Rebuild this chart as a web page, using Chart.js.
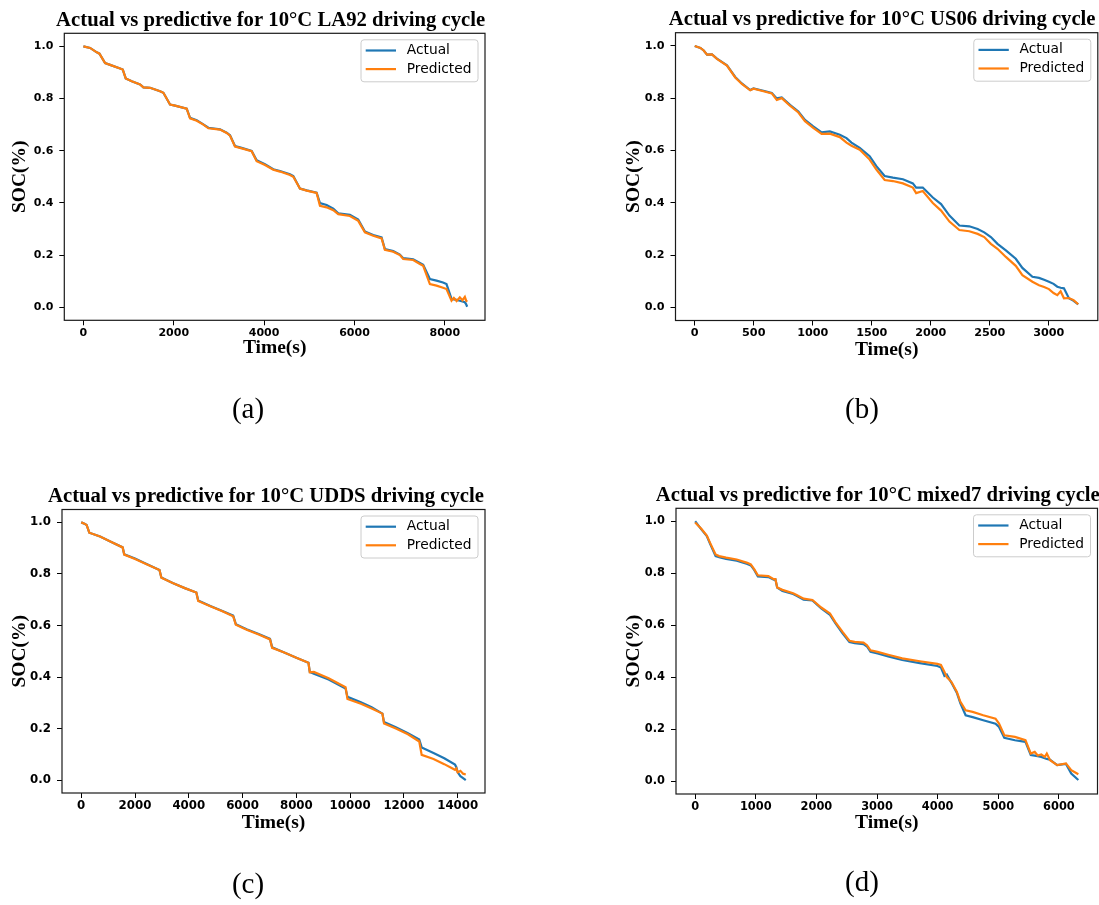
<!DOCTYPE html>
<html lang="en">
<head>
<meta charset="UTF-8">
<title>Actual vs predictive SOC</title>
<script src="https://cdn.jsdelivr.net/npm/chart.js"></script>
<style>
  html, body { margin: 0; padding: 0; background: #fff; }
  #wrap { position: relative; width: 1099px; height: 905px; overflow: hidden; }
  #wrap canvas { position: absolute; left: 0; top: 0; }
</style>
</head>
<body>
<div id="wrap">
  <canvas id="chartA" width="1099" height="905"></canvas>
  <canvas id="chartB" width="1099" height="905"></canvas>
  <canvas id="chartC" width="1099" height="905"></canvas>
  <canvas id="chartD" width="1099" height="905"></canvas>
</div>
<script>
// ---- data ----
const yTicks = [0, 0.2, 0.4, 0.6, 0.8, 1.0];

// (a) LA92
const xTicksA = [0, 2000, 4000, 6000, 8000];
const timeA = [0, 148, 296, 355, 480, 591, 812, 871, 937, 1070, 1254, 1328, 1475, 1697, 1770, 1918, 2028, 2286, 2360, 2508, 2655, 2766, 3024, 3171, 3245, 3355, 3503, 3724, 3835, 4019, 4203, 4351, 4572, 4646, 4793, 4941, 5162, 5236, 5383, 5531, 5641, 5899, 6083, 6231, 6415, 6600, 6673, 6858, 7005, 7079, 7300, 7448, 7521, 7669, 7816, 7960, 8037, 8148, 8200, 8260, 8332, 8390, 8443, 8470, 8494];
const actualA = [1.000, 0.994, 0.977, 0.972, 0.936, 0.929, 0.915, 0.911, 0.877, 0.866, 0.854, 0.843, 0.841, 0.828, 0.822, 0.777, 0.773, 0.761, 0.726, 0.717, 0.701, 0.688, 0.682, 0.669, 0.659, 0.618, 0.611, 0.599, 0.563, 0.548, 0.529, 0.522, 0.510, 0.503, 0.455, 0.448, 0.439, 0.399, 0.392, 0.378, 0.360, 0.354, 0.336, 0.290, 0.277, 0.268, 0.223, 0.215, 0.202, 0.188, 0.184, 0.170, 0.163, 0.108, 0.102, 0.095, 0.089, 0.032, 0.030, 0.028, 0.025, 0.022, 0.019, 0.012, 0.002];
const predA = [1.000, 0.994, 0.977, 0.972, 0.936, 0.929, 0.915, 0.911, 0.877, 0.866, 0.854, 0.843, 0.841, 0.828, 0.822, 0.777, 0.773, 0.761, 0.724, 0.715, 0.700, 0.686, 0.681, 0.668, 0.658, 0.616, 0.609, 0.598, 0.560, 0.545, 0.527, 0.520, 0.507, 0.500, 0.455, 0.447, 0.438, 0.389, 0.383, 0.372, 0.357, 0.350, 0.331, 0.287, 0.274, 0.264, 0.220, 0.213, 0.200, 0.185, 0.181, 0.166, 0.159, 0.089, 0.083, 0.075, 0.070, 0.025, 0.036, 0.024, 0.038, 0.027, 0.040, 0.026, 0.021];

// (b) US06
const xTicksB = [0, 500, 1000, 1500, 2000, 2500, 3000];
const timeB = [0, 48, 76, 104, 146, 188, 273, 343, 399, 470, 498, 582, 653, 695, 737, 807, 878, 934, 1004, 1075, 1145, 1229, 1286, 1328, 1398, 1482, 1539, 1609, 1679, 1764, 1848, 1876, 1932, 2017, 2087, 2158, 2242, 2326, 2397, 2453, 2509, 2565, 2636, 2720, 2776, 2861, 2917, 2960, 3001, 3040, 3072, 3100, 3128, 3170, 3210, 3249];
const actualB = [0.999, 0.992, 0.982, 0.966, 0.967, 0.951, 0.925, 0.881, 0.856, 0.831, 0.837, 0.828, 0.820, 0.799, 0.803, 0.774, 0.749, 0.717, 0.692, 0.669, 0.673, 0.660, 0.647, 0.630, 0.610, 0.578, 0.540, 0.502, 0.496, 0.490, 0.474, 0.458, 0.458, 0.420, 0.395, 0.351, 0.313, 0.310, 0.300, 0.287, 0.269, 0.243, 0.218, 0.186, 0.151, 0.117, 0.113, 0.106, 0.098, 0.090, 0.079, 0.075, 0.073, 0.035, 0.025, 0.012];
const predB = [0.999, 0.992, 0.982, 0.966, 0.967, 0.950, 0.924, 0.879, 0.854, 0.830, 0.836, 0.826, 0.818, 0.793, 0.800, 0.771, 0.745, 0.712, 0.686, 0.663, 0.664, 0.651, 0.630, 0.618, 0.603, 0.565, 0.527, 0.487, 0.483, 0.474, 0.458, 0.437, 0.445, 0.399, 0.370, 0.328, 0.296, 0.291, 0.281, 0.269, 0.243, 0.224, 0.193, 0.159, 0.123, 0.098, 0.085, 0.078, 0.070, 0.055, 0.047, 0.062, 0.035, 0.036, 0.028, 0.012];

// (c) UDDS
const xTicksC = [0, 2000, 4000, 6000, 8000, 10000, 12000, 14000];
const timeC = [0, 120, 200, 300, 700, 1100, 1540, 1600, 2000, 2450, 2910, 2980, 3400, 3850, 4280, 4350, 4800, 5250, 5650, 5750, 6150, 6600, 7020, 7100, 7550, 8000, 8450, 8500, 8650, 9200, 9830, 9900, 10400, 10800, 11200, 11260, 11700, 12150, 12570, 12660, 13100, 13500, 13900, 13950, 14000, 14100, 14200, 14300];
const actualC = [1.000, 0.995, 0.990, 0.960, 0.945, 0.925, 0.903, 0.876, 0.860, 0.838, 0.815, 0.786, 0.765, 0.745, 0.728, 0.697, 0.676, 0.656, 0.638, 0.605, 0.585, 0.567, 0.548, 0.515, 0.495, 0.475, 0.455, 0.420, 0.413, 0.390, 0.355, 0.323, 0.302, 0.283, 0.258, 0.225, 0.205, 0.182, 0.158, 0.127, 0.105, 0.085, 0.060, 0.050, 0.030, 0.015, 0.008, 0.000];
const predC = [1.000, 0.995, 0.990, 0.960, 0.945, 0.925, 0.903, 0.875, 0.858, 0.837, 0.815, 0.785, 0.765, 0.745, 0.728, 0.695, 0.675, 0.655, 0.636, 0.603, 0.583, 0.565, 0.546, 0.513, 0.495, 0.475, 0.455, 0.418, 0.420, 0.395, 0.360, 0.315, 0.296, 0.278, 0.258, 0.220, 0.200, 0.178, 0.150, 0.098, 0.082, 0.062, 0.040, 0.045, 0.030, 0.036, 0.025, 0.022];

// (d) mixed7
const xTicksD = [0, 1000, 2000, 3000, 4000, 5000, 6000];
const timeD = [0, 105, 192, 250, 337, 395, 511, 685, 860, 918, 976, 1034, 1208, 1295, 1324, 1353, 1440, 1615, 1673, 1789, 1934, 2079, 2224, 2312, 2428, 2544, 2631, 2776, 2834, 2892, 3009, 3183, 3415, 3706, 3996, 4054, 4112, 4150, 4228, 4315, 4373, 4461, 4577, 4751, 4954, 5012, 5099, 5274, 5448, 5535, 5600, 5650, 5709, 5767, 5800, 5854, 5971, 6116, 6203, 6320];
const actualD = [1.000, 0.968, 0.943, 0.911, 0.866, 0.862, 0.855, 0.848, 0.836, 0.830, 0.812, 0.788, 0.785, 0.775, 0.776, 0.745, 0.732, 0.720, 0.713, 0.698, 0.695, 0.665, 0.640, 0.608, 0.570, 0.535, 0.531, 0.527, 0.518, 0.498, 0.491, 0.480, 0.466, 0.454, 0.443, 0.437, 0.405, 0.410, 0.378, 0.340, 0.300, 0.253, 0.246, 0.234, 0.221, 0.208, 0.166, 0.157, 0.151, 0.100, 0.098, 0.096, 0.093, 0.088, 0.085, 0.082, 0.061, 0.066, 0.029, 0.004];
const predD = [0.995, 0.970, 0.945, 0.915, 0.872, 0.866, 0.860, 0.853, 0.840, 0.834, 0.815, 0.792, 0.789, 0.777, 0.777, 0.745, 0.736, 0.723, 0.716, 0.702, 0.697, 0.668, 0.645, 0.612, 0.575, 0.540, 0.536, 0.533, 0.523, 0.503, 0.497, 0.486, 0.472, 0.461, 0.451, 0.447, 0.420, 0.400, 0.381, 0.344, 0.306, 0.272, 0.266, 0.253, 0.240, 0.221, 0.176, 0.170, 0.157, 0.106, 0.112, 0.098, 0.102, 0.093, 0.106, 0.080, 0.061, 0.068, 0.042, 0.026];

// ---- look ----
const W = 1099, H = 905;
const blue = '#1f77b4', orange = '#ff7f0e';
const axisFont = { family: '"Liberation Serif", serif', size: 19.5, weight: 'bold' };

// frame, title, legend in the plot box and the (a)/(b) tag
const decor = {
  id: 'decor',
  afterDatasetsDraw(chart, args, o) {
    const ctx = chart.ctx, a = chart.chartArea;
    ctx.save();
    ctx.strokeStyle = '#1a1a1a';
    ctx.lineWidth = 1.2;
    ctx.strokeRect(a.left, a.top, a.right - a.left, a.bottom - a.top);

    // legend box
    const lw = 117, lh = 42;
    const lx = a.right - 7 - lw, ly = a.top + 6.5;
    ctx.beginPath();
    ctx.roundRect(lx, ly, lw, lh, 3);
    ctx.fillStyle = 'rgba(255,255,255,0.85)';
    ctx.fill();
    ctx.strokeStyle = '#cccccc';
    ctx.lineWidth = 1;
    ctx.stroke();
    ctx.font = '13.8px "DejaVu Sans", sans-serif';
    ctx.textBaseline = 'middle';
    ctx.textAlign = 'left';
    chart.data.datasets.forEach((ds, i) => {
      const y = ly + 10.7 + i * 18.6;
      ctx.beginPath();
      ctx.moveTo(lx + 4.7, y);
      ctx.lineTo(lx + 35, y);
      ctx.strokeStyle = ds.borderColor;
      ctx.lineWidth = 2.2;
      ctx.stroke();
      ctx.fillStyle = '#000';
      ctx.fillText(ds.label, lx + 45.7, y);
    });

    // title above the box
    ctx.fillStyle = '#000';
    ctx.textAlign = 'center';
    ctx.font = 'bold 20.7px "Liberation Serif", serif';
    ctx.fillText(o.title, (a.left + a.right) / 2 + o.titleDx, a.top - 12.6);

    // sub-figure tag
    ctx.font = '29px "Liberation Serif", serif';
    ctx.fillText(o.tag, o.tagX, o.tagY);
    ctx.restore();
  }
};

function makePanel(p) {
  const pts = vals => p.time.map((t, i) => ({ x: t, y: vals[i] }));
  const tickFont = { family: '"DejaVu Sans", sans-serif', size: p.tickSize, weight: 'bold' };
  return new Chart(document.getElementById(p.id), {
    type: 'line',
    data: {
      datasets: [
        { label: 'Actual', data: pts(p.actual), borderColor: blue, backgroundColor: blue, order: 2 },
        { label: 'Predicted', data: pts(p.pred), borderColor: orange, backgroundColor: orange, order: 1 }
      ]
    },
    options: {
      responsive: false,
      animation: false,
      events: [],
      elements: { point: { radius: 0 }, line: { borderWidth: 2.2, tension: 0, fill: false } },
      layout: {
        autoPadding: false,
        padding: { left: p.box.l - p.yw, top: p.box.t, right: W - p.box.r, bottom: H - p.box.b - p.xh }
      },
      scales: {
        x: {
          type: 'linear', min: p.xMin, max: p.xMax,
          afterBuildTicks: s => { s.ticks = p.xTicks.map(v => ({ value: v })); },
          afterFit: s => { s.height = p.xh; },
          ticks: { callback: v => String(v), font: tickFont, color: '#000', padding: 1, maxRotation: 0, autoSkip: false },
          grid: { drawOnChartArea: false, tickLength: 5, color: '#000' },
          border: { display: false },
          title: { display: true, text: 'Time(s)', font: axisFont, color: '#000', padding: 0 }
        },
        y: {
          type: 'linear', min: -0.05, max: 1.05,
          afterBuildTicks: s => { s.ticks = yTicks.map(v => ({ value: v })); },
          afterFit: s => { s.width = p.yw; },
          ticks: { callback: v => v.toFixed(1), font: tickFont, color: '#000', padding: 6 },
          grid: { drawOnChartArea: false, tickLength: 5, color: '#000' },
          border: { display: false },
          title: { display: true, text: 'SOC(%)', font: axisFont, color: '#000', padding: 0 }
        }
      },
      plugins: {
        legend: { display: false },
        tooltip: { enabled: false },
        decor: { title: p.title, titleDx: p.titleDx, tag: p.tag, tagX: p.tagX, tagY: p.tagY }
      }
    },
    plugins: [decor]
  });
}

makePanel({ id: 'chartA', time: timeA, actual: actualA, pred: predA, xTicks: xTicksA, xMin: -423, xMax: 8889,
  title: 'Actual vs predictive for 10°C LA92 driving cycle', titleDx: -4, tag: '(a)', tagX: 248, tagY: 410,
  box: { l: 64.3, r: 485, t: 33.3, b: 320.3 }, yw: 56, xh: 39.5, tickSize: 11 });
makePanel({ id: 'chartB', time: timeB, actual: actualB, pred: predB, xTicks: xTicksB, xMin: -163, xMax: 3415,
  title: 'Actual vs predictive for 10°C US06 driving cycle', titleDx: -4.5, tag: '(b)', tagX: 862, tagY: 410,
  box: { l: 675.5, r: 1097.8, t: 32.7, b: 320.5 }, yw: 53.7, xh: 41.5, tickSize: 11.2 });
makePanel({ id: 'chartC', time: timeC, actual: actualC, pred: predC, xTicks: xTicksC, xMin: -715, xMax: 15015,
  title: 'Actual vs predictive for 10°C UDDS driving cycle', titleDx: -7.5, tag: '(c)', tagX: 248, tagY: 885,
  box: { l: 62, r: 485, t: 509.5, b: 793 }, yw: 53.7, xh: 42, tickSize: 11.8 });
makePanel({ id: 'chartD', time: timeD, actual: actualD, pred: predD, xTicks: xTicksD, xMin: -316, xMax: 6636,
  title: 'Actual vs predictive for 10°C mixed7 driving cycle', titleDx: -9, tag: '(d)', tagX: 862, tagY: 883,
  box: { l: 676, r: 1097.5, t: 508.3, b: 794 }, yw: 54.2, xh: 41, tickSize: 11.4 });
</script>
</body>
</html>
